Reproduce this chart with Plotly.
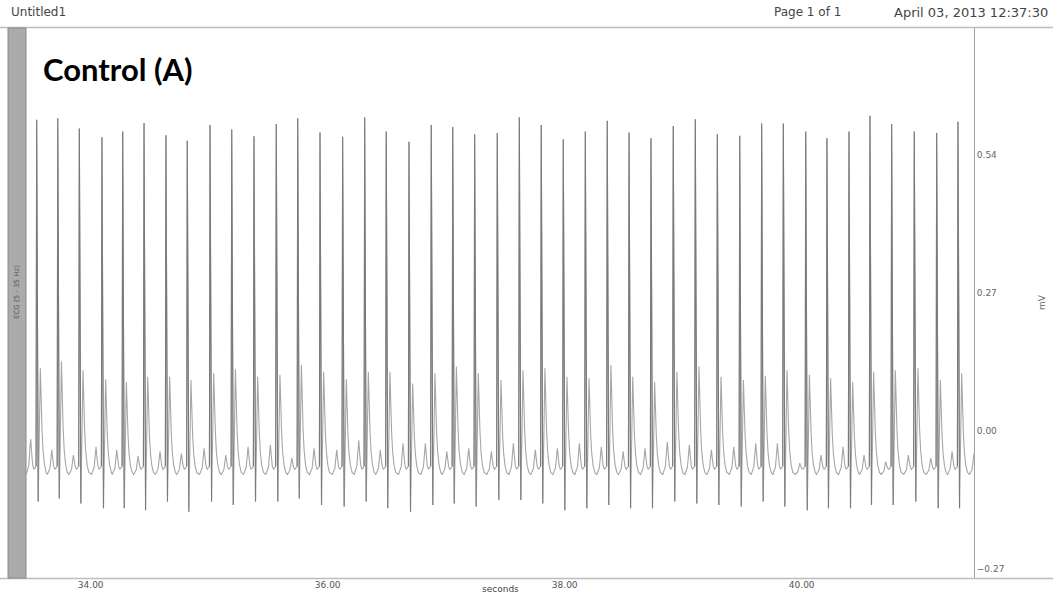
import plotly.graph_objects as go

# ---- data ----
# R-peak times (s)
beat_t = [33.544, 33.722, 33.904, 34.095, 34.270, 34.450, 34.635, 34.815, 35.007, 35.190,
          35.378, 35.566, 35.747, 35.935, 36.126, 36.312, 36.494, 36.686, 36.874, 37.055,
          37.240, 37.431, 37.617, 37.802, 37.988, 38.174, 38.359, 38.543, 38.728, 38.916,
          39.102, 39.288, 39.477, 39.662, 39.845, 40.034, 40.213, 40.399, 40.576, 40.759,
          40.950, 41.139, 41.319, 41.504]
# R-peak amplitudes (mV)
r_amp = [0.609, 0.612, 0.592, 0.575, 0.586, 0.603, 0.579, 0.568, 0.599, 0.590,
         0.577, 0.601, 0.612, 0.584, 0.576, 0.614, 0.586, 0.566, 0.599, 0.595,
         0.581, 0.583, 0.614, 0.599, 0.571, 0.586, 0.607, 0.584, 0.573, 0.597,
         0.610, 0.581, 0.578, 0.602, 0.602, 0.586, 0.573, 0.586, 0.617, 0.601,
         0.586, 0.583, 0.605, 0.600]
# S-wave minima (mV)
s_amp = [-0.138, -0.132, -0.142, -0.151, -0.151, -0.155, -0.138, -0.158, -0.138, -0.145,
         -0.138, -0.138, -0.132, -0.145, -0.148, -0.138, -0.151, -0.158, -0.145, -0.142,
         -0.148, -0.135, -0.135, -0.142, -0.155, -0.151, -0.145, -0.151, -0.151, -0.138,
         -0.142, -0.145, -0.148, -0.138, -0.148, -0.155, -0.151, -0.151, -0.145, -0.145,
         -0.138, -0.151, -0.151, -0.150]
# T-wave peaks (mV)
t_amp = [0.123, 0.136, 0.119, 0.101, 0.096, 0.106, 0.106, 0.100, 0.113, 0.121,
         0.106, 0.110, 0.129, 0.116, 0.101, 0.116, 0.116, 0.093, 0.113, 0.126,
         0.113, 0.100, 0.119, 0.123, 0.106, 0.103, 0.129, 0.106, 0.096, 0.116,
         0.126, 0.106, 0.100, 0.108, 0.119, 0.110, 0.103, 0.096, 0.116, 0.119,
         0.123, 0.100, 0.113, 0.110]
# P-wave peaks (mV)
p_amp = [-0.016, -0.037, -0.047, -0.031, -0.037, -0.049, -0.040, -0.044, -0.034, -0.047,
         -0.031, -0.027, -0.053, -0.034, -0.037, -0.018, -0.037, -0.024, -0.024, -0.040,
         -0.034, -0.040, -0.024, -0.037, -0.034, -0.024, -0.031, -0.040, -0.034, -0.021,
         -0.027, -0.037, -0.031, -0.024, -0.024, -0.063, -0.047, -0.031, -0.047, -0.060,
         -0.047, -0.053, -0.040, -0.045]
base_low = -0.085   # diastolic baseline after T
base_high = -0.075  # level between P and R

x_ticks = [34, 36, 38, 40]
y_ticks = [-0.27, 0.0, 0.27, 0.54]

# ---- build the trace from the beats ----
xs, ys = [], []          # whole signal
qx, qy = [], []          # QRS spikes (drawn darker on top)
for t, R, S, T, P in zip(beat_t, r_amp, s_amp, t_amp, p_amp):
    pts = [
        (-0.088, base_low),
        (-0.066, base_low + 0.25 * (P - base_low)),
        (-0.057, base_low + 0.75 * (P - base_low)),
        (-0.050, P),
        (-0.043, base_high + 0.6 * (P - base_high)),
        (-0.034, base_high + 0.15 * (P - base_high)),
        (-0.024, base_high),
        (-0.005, base_high + 0.006),
        (0.0, R),
        (0.013, S),
        (0.031, T),
        (0.037, base_low + 0.70 * (T - base_low)),
        (0.045, base_low + 0.42 * (T - base_low)),
        (0.054, base_low + 0.22 * (T - base_low)),
        (0.066, base_low + 0.09 * (T - base_low)),
        (0.080, base_low + 0.02 * (T - base_low)),
    ]
    for dt, v in pts:
        xs.append(t + dt)
        ys.append(v)
    for dt, v in [(-0.005, base_high + 0.006), (0.0, R), (0.013, S)]:
        qx.append(t + dt)
        qy.append(v)
    qx.append(None)
    qy.append(None)

fig = go.Figure()
fig.add_trace(go.Scatter(x=xs, y=ys, mode="lines",
                         line=dict(color="#a6a6a6", width=1.1),
                         hoverinfo="skip", showlegend=False))
fig.add_trace(go.Scatter(x=qx, y=qy, mode="lines",
                         line=dict(color="#7a7a7a", width=1.1),
                         hoverinfo="skip", showlegend=False))

W, H = 1053, 594
L, R_, T_, B = 26, 79, 28, 16
pw, ph = W - L - R_, H - T_ - B

def px(x):
    return (x - L) / pw

def py(y):
    return (H - B - y) / ph

fig.update_layout(
    width=W, height=H,
    margin=dict(l=L, r=R_, t=T_, b=B, autoexpand=False),
    paper_bgcolor="white", plot_bgcolor="white",
    font=dict(family="DejaVu Sans", color="#555"),
    xaxis=dict(range=[33.454, 41.454], tickvals=x_ticks, tickformat=".2f",
               showgrid=False, zeroline=False, showline=False, ticks="",
               automargin=False, ticklabelstandoff=0,
               tickfont=dict(size=9, color="#555")),
    yaxis=dict(range=[-0.2877, 0.7887], tickvals=y_ticks, tickformat=".2f",
               side="right", showgrid=False, zeroline=False, automargin=False,
               showline=True, linecolor="#a0a0a0", linewidth=1, ticks="",
               tickfont=dict(size=9, color="#666")),
)

shapes = []
# top and bottom frame lines
shapes.append(dict(type="line", xref="paper", yref="paper", x0=px(0), x1=px(W),
                   y0=py(27.5), y1=py(27.5), line=dict(color="#bdbdbd", width=1.5)))
shapes.append(dict(type="line", xref="paper", yref="paper", x0=px(0), x1=px(W),
                   y0=py(578.5), y1=py(578.5), line=dict(color="#bdbdbd", width=1.5)))
# left gray bar
shapes.append(dict(type="rect", xref="paper", yref="paper", x0=px(8), x1=px(26),
                   y0=py(578), y1=py(28), fillcolor="#ababab",
                   line=dict(color="#8a8a8a", width=1)))
fig.update_layout(shapes=shapes)

ann = []
ann.append(dict(text="Untitled1", x=px(9), y=py(12), xref="paper", yref="paper",
                xanchor="left", yanchor="middle", showarrow=False,
                font=dict(size=12, color="#444", family="DejaVu Sans")))
ann.append(dict(text="Page 1 of 1", x=px(843), y=py(12), xref="paper", yref="paper",
                xanchor="right", yanchor="middle", showarrow=False,
                font=dict(size=12, color="#444", family="DejaVu Sans")))
ann.append(dict(text="April 03, 2013 12:37:30", x=px(1050), y=py(12), xref="paper", yref="paper",
                xanchor="right", yanchor="middle", showarrow=False,
                font=dict(size=13, color="#444", family="DejaVu Sans")))
ann.append(dict(text="<b>Control (A)</b>", x=px(41), y=py(69), xref="paper", yref="paper",
                xanchor="left", yanchor="middle", showarrow=False,
                font=dict(size=31, color="black",
                          family="Liberation Sans Narrow, Arial Narrow, Lato, sans-serif")))
ann.append(dict(text="seconds", x=px(500), y=py(589), xref="paper", yref="paper",
                xanchor="center", yanchor="middle", showarrow=False,
                font=dict(size=9, color="#444", family="DejaVu Sans")))
ann.append(dict(text="mV", x=px(1042), y=py(302), xref="paper", yref="paper",
                xanchor="center", yanchor="middle", showarrow=False, textangle=-90,
                font=dict(size=9, color="#666", family="DejaVu Sans")))
ann.append(dict(text="ECG (5 - 35 Hz)", x=px(17), y=py(292), xref="paper", yref="paper",
                xanchor="center", yanchor="middle", showarrow=False, textangle=-90,
                font=dict(size=7, color="#555", family="DejaVu Sans")))
fig.update_layout(annotations=ann)

fig.write_html("out.html")
